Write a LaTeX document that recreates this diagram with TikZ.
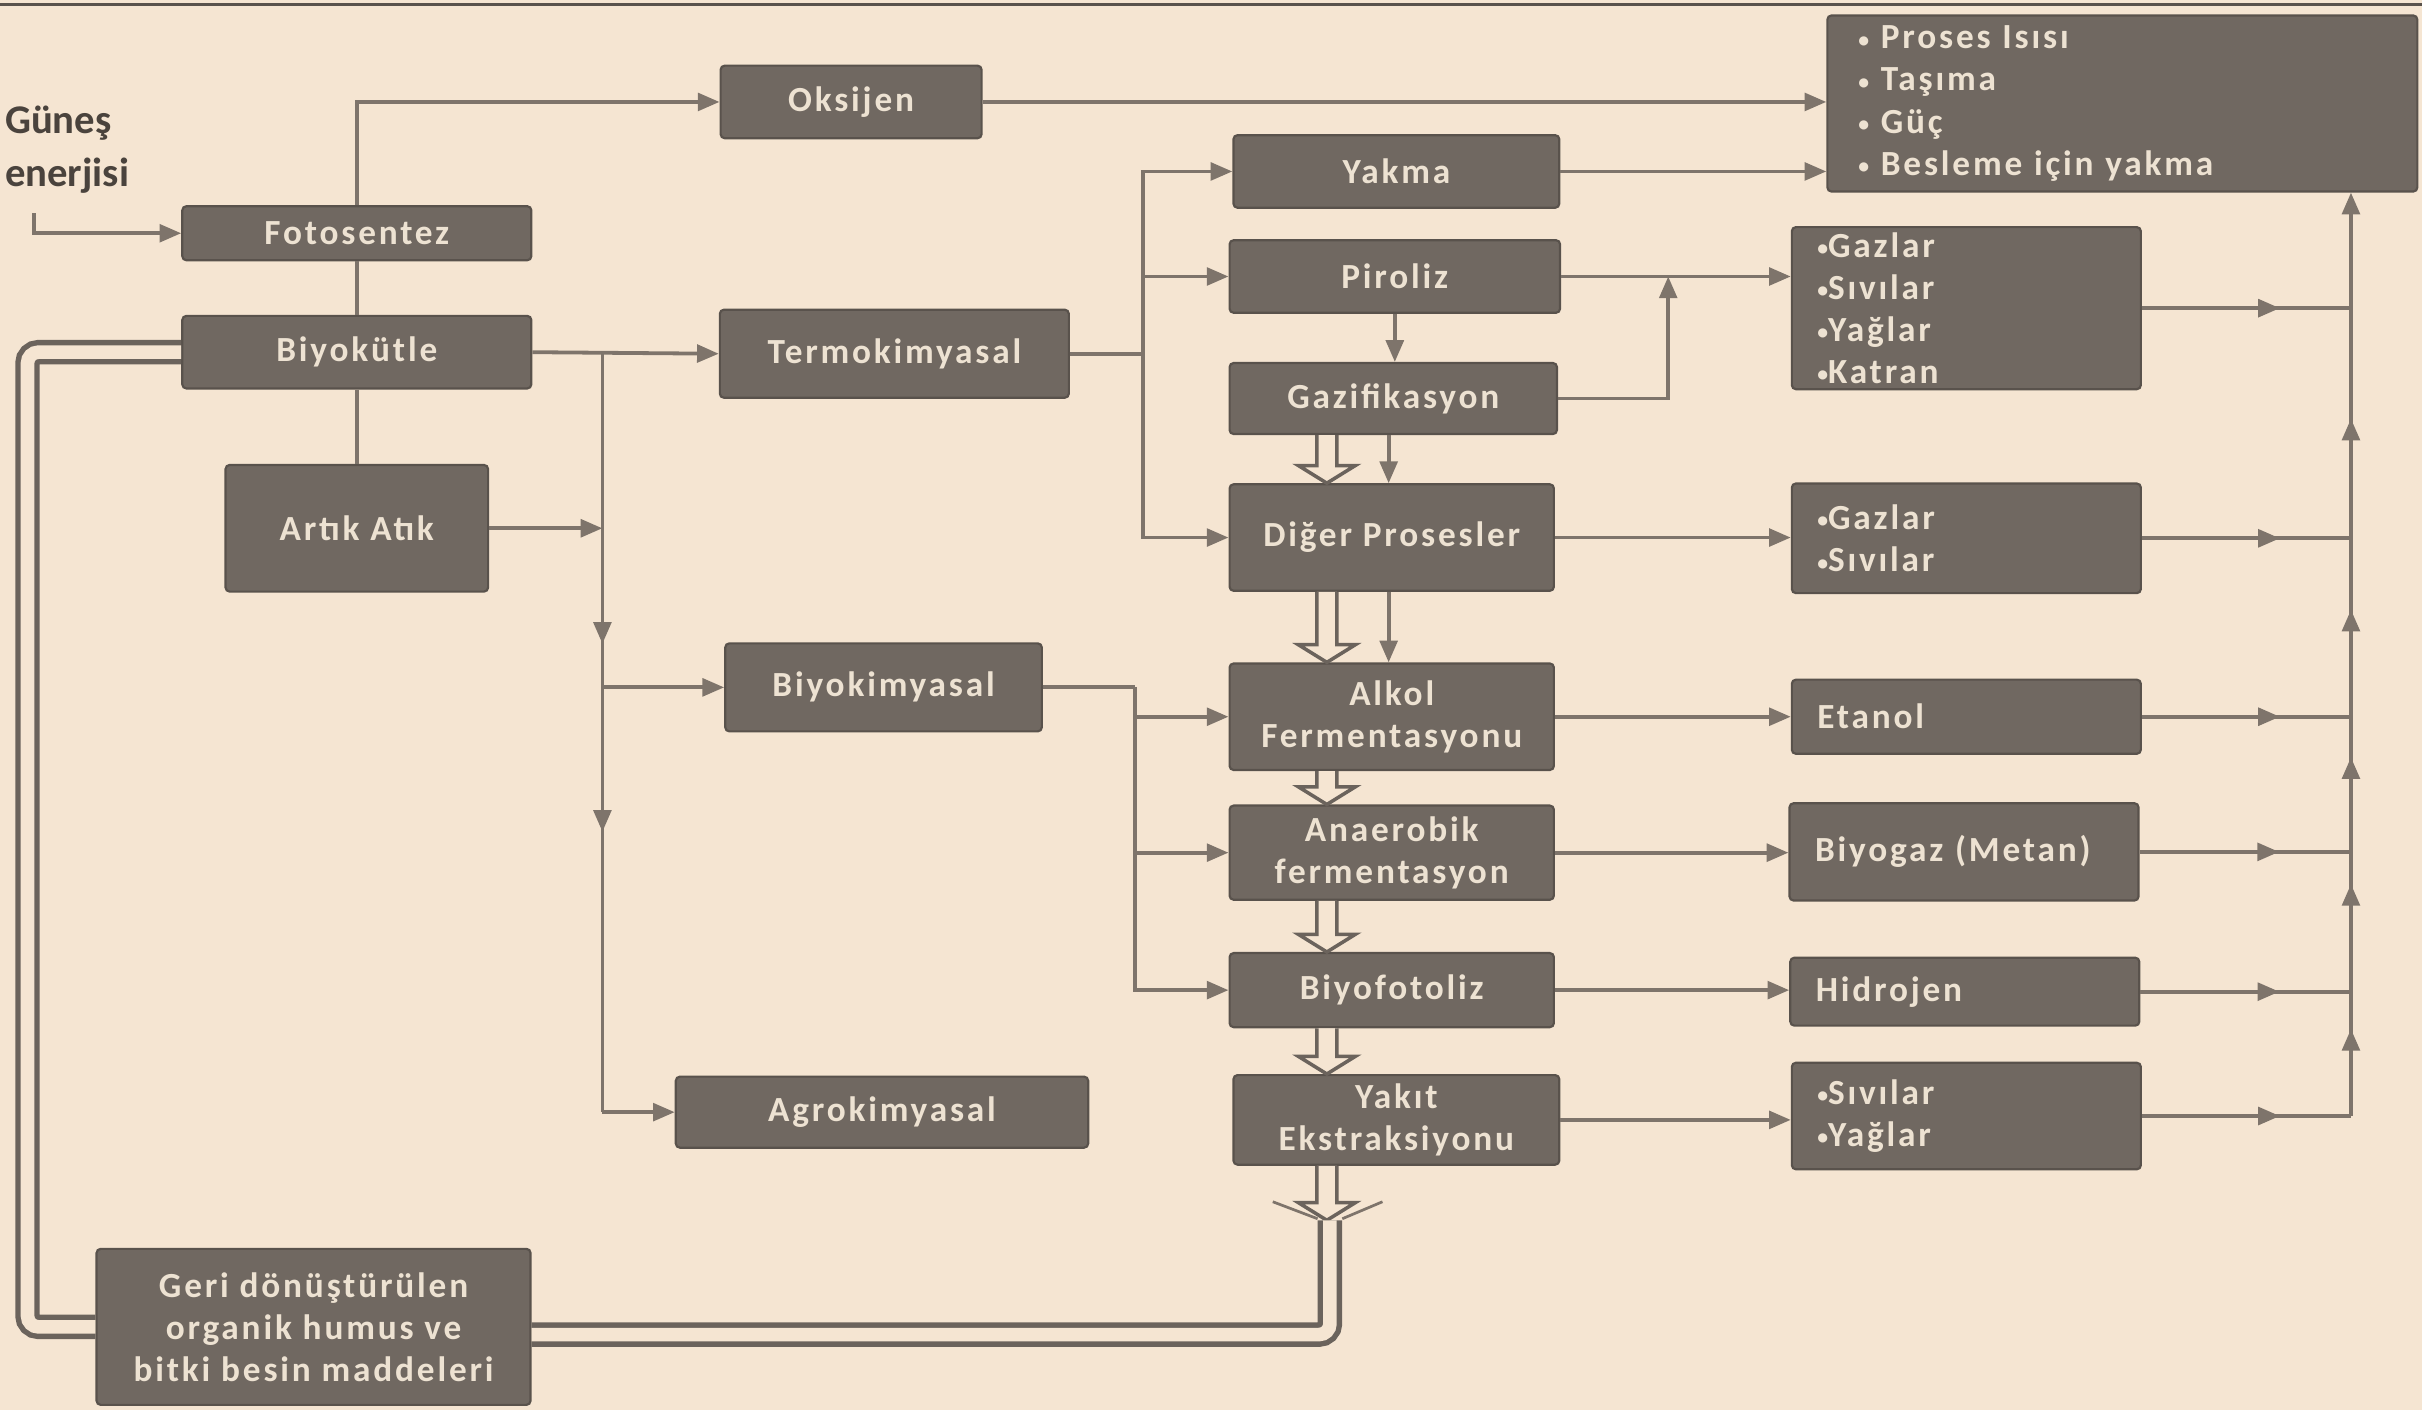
\documentclass[tikz,border=0pt]{standalone}
\usepackage{fontspec}
\setmainfont{Carlito}
\usetikzlibrary{
  positioning,
  arrows.meta,
  calc,
  decorations.markings,
}
\definecolor{bgBeige}{HTML}{F5E5D2}
\definecolor{boxFill}{HTML}{706861}
\definecolor{boxBorder}{HTML}{59524C}
\definecolor{boxText}{HTML}{EDE2D2}
\definecolor{lineCol}{HTML}{7E746B}
\definecolor{pipeCol}{HTML}{6B635C}
\definecolor{sunText}{HTML}{4A433D}
\newcommand{\procfont}{\fontsize{13}{15.5}\selectfont\bfseries\addfontfeature{LetterSpace=8}}
\newcommand{\blt}{{\fontsize{8}{8}\selectfont\raisebox{0.15ex}{•}}}
\tikzset{
  procbox/.style={
    rectangle, rounded corners=1.5pt, draw=boxBorder, fill=boxFill,
    text=boxText, font=\procfont, align=center, inner sep=2pt,
    line width=0.8pt,
  },
  outbox/.style={
    procbox, align=left, inner xsep=0.33cm, text width=3.86cm,
  },
  conn/.style={draw=lineCol, line width=1.4pt},
  arrow/.style={conn, -{Triangle[length=8pt,width=6.5pt]}},
  midarrow/.style={
    conn, postaction={decorate},
    decoration={markings, mark=at position #1 with {\arrow{Triangle[length=8pt,width=6.5pt]}}},
  },
  pipe/.style={draw=pipeCol, double=bgBeige, double distance=5pt, line width=2pt, rounded corners=4pt},
  hollow/.style={
    draw=pipeCol, fill=bgBeige, line width=1.3pt,
    to path={let \p1=(\tikztostart), \p2=(\tikztotarget) in
      (\x1-3.7pt,\y1) -- (\x1-3.7pt,\y2+6.5pt) -- (\x1-10.5pt,\y2+6.5pt) -- (\x1,\y2)
      -- (\x1+10.5pt,\y2+6.5pt) -- (\x1+3.7pt,\y2+6.5pt) -- (\x1+3.7pt,\y1)},
  },
}

\begin{document}
\begin{tikzpicture}[x=0.02cm, y=-0.02cm]

  \fill[bgBeige] (0,0) rectangle (1568,913);
  \useasboundingbox (0,0) rectangle (1568,913);
  \draw[boxBorder, line width=1.2pt] (0,3) -- (1568,3);

  % Left column
  \node[text=sunText, font=\fontsize{15}{19.5}\selectfont\bfseries, align=left, anchor=north west, inner sep=0pt] (gunes) at (3,68) {Güneş\\enerjisi};
  \node[procbox, minimum width=4.52cm, minimum height=0.70cm] (foto) at (231,151) {Fotosentez};
  \node[procbox, minimum width=4.52cm, minimum height=0.94cm] (biyo) at (231,228) {Biyokütle};
  \node[procbox, minimum width=3.40cm, minimum height=1.64cm] (artik) at (231,342) {Artık Atık};
  \node[procbox, minimum width=5.62cm, minimum height=2.02cm] (geri) at (203,859) {Geri dönüştürülen\\organik humus ve\\bitki besin maddeleri};

  % Second column
  \node[procbox, minimum width=3.38cm, minimum height=0.94cm] (oks) at (551,66) {Oksijen};
  \node[procbox, minimum width=4.52cm, minimum height=1.14cm] (termo) at (579,229) {Termokimyasal};
  \node[procbox, minimum width=4.10cm, minimum height=1.14cm] (biyok) at (572,445) {Biyokimyasal};
  \node[procbox, minimum width=5.34cm, minimum height=0.92cm] (agro) at (571,720) {Agrokimyasal};

  % Processes
  \node[procbox, minimum width=4.22cm, minimum height=0.94cm] (yakma) at (904,111) {Yakma};
  \node[procbox, minimum width=4.28cm, minimum height=0.94cm] (piro) at (903,179) {Piroliz};
  \node[procbox, minimum width=4.24cm, minimum height=0.92cm] (gazi) at (902,258) {Gazifikasyon};
  \node[procbox, minimum width=4.20cm, minimum height=1.38cm] (diger) at (901,348) {Diğer Prosesler};
  \node[procbox, minimum width=4.20cm, minimum height=1.38cm] (alkol) at (901,464) {Alkol\\Fermentasyonu};
  \node[procbox, minimum width=4.20cm, minimum height=1.22cm] (anae) at (901,552) {Anaerobik\\fermentasyon};
  \node[procbox, minimum width=4.20cm, minimum height=0.96cm] (biyof) at (901,641) {Biyofotoliz};
  \node[procbox, minimum width=4.22cm, minimum height=1.16cm] (yakit) at (904,725) {Yakıt\\Ekstraksiyonu};

  % Products
  \node[procbox, align=left, inner xsep=0.4cm, text width=6.84cm, minimum height=2.28cm] (out1) at (1374,67) {\blt\ Proses Isısı\\\blt\ Taşıma\\\blt\ Güç\\\blt\ Besleme için yakma};
  \node[outbox, minimum height=2.06cm] (out2) at (1273,199.5) {\blt Gazlar\\\blt Sıvılar\\\blt Yağlar\\\blt Katran};
  \node[outbox, minimum height=1.42cm] (out3) at (1273,348.5) {\blt Gazlar\\\blt Sıvılar};
  \node[outbox, minimum height=0.96cm] (etanol) at (1273,464) {Etanol};
  \node[outbox, minimum height=1.26cm] (biyogaz) at (1271.5,551.5) {Biyogaz (Metan)};
  \node[outbox, minimum height=0.88cm] (hidro) at (1272,642) {Hidrojen};
  \node[outbox, minimum height=1.38cm] (out7) at (1273,722.5) {\blt Sıvılar\\\blt Yağlar};

  % Junctions
  \coordinate (gsrc) at (22,138);
  \coordinate (j1) at (390,228);
  \coordinate (j2) at (740,229);
  \coordinate (j3) at (735,445);
  \coordinate (j4) at (1080,0);
  \coordinate (sx) at (899,0);
  \coordinate (hx) at (859,0);
  \coordinate (fun) at (861,790);
  \coordinate (cx) at (1522,0);

  \draw[arrow] (gsrc) |- (foto.west);
  \draw[arrow] (foto.north) |- (oks.west);
  \draw[conn] (foto.south) -- (biyo.north);
  \draw[conn] (biyo.south) -- (artik.north);
  \draw[arrow] (biyo.east) -- (termo.west);
  \draw[arrow] (artik.east) -- (j1 |- artik.east);
  \draw[midarrow=0.87] (j1) -- (j1 |- biyok.west);
  \draw[midarrow=0.34] (j1 |- biyok.west) -- (j1 |- agro.west);
  \draw[arrow] (j1 |- biyok.west) -- (biyok.west);
  \draw[arrow] (j1 |- agro.west) -- (agro.west);

  \draw[arrow] (oks.east) -- (oks.east -| out1.west);
  \draw[conn] (termo.east) -- (j2);
  \draw[arrow] (j2) |- (yakma.west);
  \draw[arrow] (j2) |- (piro.west);
  \draw[arrow] (j2) |- (diger.west);
  \draw[conn] (biyok.east) -- (j3);
  \draw[arrow] (j3) |- (alkol.west);
  \draw[arrow] (j3) |- (anae.west);
  \draw[arrow] (j3) |- (biyof.west);

  \draw[arrow] (piro.south) -- (piro.south |- gazi.north);
  \draw[arrow] (gazi.south -| sx) -- (diger.north -| sx);
  \draw[arrow] (diger.south -| sx) -- (alkol.north -| sx);
  \draw[hollow] (gazi.south -| hx) to (diger.north -| hx);
  \draw[hollow] (diger.south -| hx) to (alkol.north -| hx);
  \draw[hollow] (alkol.south -| hx) to (anae.north -| hx);
  \draw[hollow] (anae.south -| hx) to (biyof.north -| hx);
  \draw[hollow] (biyof.south -| hx) to (yakit.north -| hx);
  \draw[hollow] (yakit.south -| hx) to (fun);

  \draw[arrow] (yakma.east) -- (yakma.east -| out1.west);
  \draw[arrow] (piro.east) -- (piro.east -| out2.west);
  \draw[arrow] (gazi.east) -| (j4 |- piro.east);
  \draw[arrow] (diger.east) -- (diger.east -| out3.west);
  \draw[arrow] (alkol.east) -- (alkol.east -| etanol.west);
  \draw[arrow] (anae.east) -- (anae.east -| biyogaz.west);
  \draw[arrow] (biyof.east) -- (biyof.east -| hidro.west);
  \draw[arrow] (yakit.east) -- (yakit.east -| out7.west);

  % Collector
  \draw[midarrow=0.66] (out2.east) -- (out2.east -| cx);
  \draw[midarrow=0.66] (out3.east) -- (out3.east -| cx);
  \draw[midarrow=0.66] (etanol.east) -- (etanol.east -| cx);
  \draw[midarrow=0.66] (biyogaz.east) -- (biyogaz.east -| cx);
  \draw[midarrow=0.66] (hidro.east) -- (hidro.east -| cx);
  \draw[midarrow=0.66] (out7.east) -- (out7.east -| cx);
  \draw[midarrow=0.7] (out7.east -| cx) -- (hidro.east -| cx);
  \draw[midarrow=0.77] (hidro.east -| cx) -- (biyogaz.east -| cx);
  \draw[midarrow=0.7] (biyogaz.east -| cx) -- (etanol.east -| cx);
  \draw[midarrow=0.6] (etanol.east -| cx) -- (out3.east -| cx);
  \draw[midarrow=0.52] (out3.east -| cx) -- (out2.east -| cx);
  \draw[arrow] (out2.east -| cx) -- (cx |- out1.south);

  % Recycling loop
  \draw[lineCol, line width=1pt] (824,778) -- (853,789) (895,778) -- (869,789);
  \draw[pipe] (fun) |- ([yshift=-0.1cm]geri.east);
  \draw[pipe] (geri.west) -- ++(-44,0) |- (biyo.west);

\end{tikzpicture}
\end{document}
